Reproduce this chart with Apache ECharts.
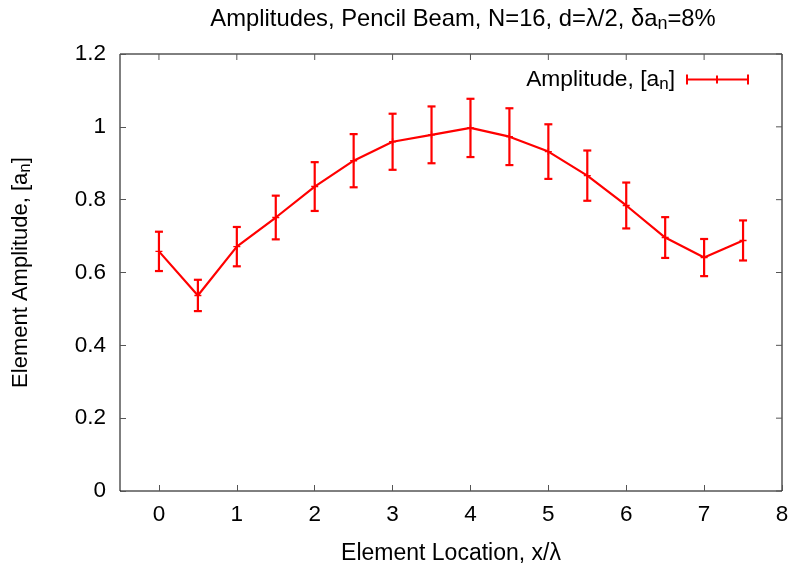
<!DOCTYPE html>
<html><head><meta charset="utf-8">
<script src="https://cdn.jsdelivr.net/npm/echarts@6/dist/echarts.min.js"></script>
<style>html,body{margin:0;padding:0;background:#fff}#c{width:792px;height:570px}</style>
</head><body><div id="c"></div>
<script>
const xLocations = [0, 0.5, 1, 1.5, 2, 2.5, 3, 3.5, 4, 4.5, 5, 5.5, 6, 6.5, 7, 7.5];
const amplitudes = [0.658, 0.537, 0.671, 0.751, 0.836, 0.907, 0.959, 0.978, 0.997, 0.973, 0.932, 0.866, 0.784, 0.696, 0.641, 0.688];
const errors = [0.054, 0.043, 0.054, 0.060, 0.067, 0.073, 0.077, 0.078, 0.080, 0.078, 0.075, 0.069, 0.063, 0.056, 0.051, 0.055];
const xTicks = [0, 1, 2, 3, 4, 5, 6, 7, 8];
const yTicks = [0, 0.2, 0.4, 0.6, 0.8, 1, 1.2];

const FONT = 'Liberation Sans';
const FS = 22.5;
const RED = '#ff0000';
const chart = echarts.init(document.getElementById('c'), null, {renderer: 'canvas'});
const lineData = xLocations.map((x, i) => [x, amplitudes[i]]);
const errData = xLocations.map((x, i) => [x, amplitudes[i] - errors[i], amplitudes[i] + errors[i]]);
function mkRich(fs, sfs, pad) {
  return {
    a: {fontFamily: FONT, fontSize: fs, color: '#000', fontWeight: 'normal'},
    s: {fontFamily: FONT, fontSize: sfs, color: '#000', fontWeight: 'normal', padding: [pad, 0, 0, 0]}
  };
}

const option = {
  backgroundColor: '#fff',
  animation: false,
  title: {
    text: '{a|Amplitudes, Pencil Beam, N=16, d=λ/2, δa}{s|n}{a|=8%}',
    left: 458, top: 0, textAlign: 'center',
    textStyle: {fontWeight: 'normal', rich: mkRich(23.8, 18, 10)}
  },
  legend: {
    right: 38, top: 63,
    align: 'right',
    itemWidth: 63, itemHeight: 10, itemGap: 10,
    icon: 'path://M0,4h63v2h-63z M0,0h2v10h-2z M30,1h2v8h-2z M61,0h2v10h-2z',
    data: [{name: 'Amplitude', itemStyle: {color: RED}}],
    formatter: () => '{a|Amplitude, [a}{s|n}{a|]}',
    textStyle: {padding: [0, 6, 0, 0], rich: mkRich(22.8, 17, 10)}
  },
  grid: {left: 120, right: 10, top: 54, bottom: 78, show: true, borderColor: '#000', borderWidth: 1, backgroundColor: 'transparent'},
  xAxis: {
    type: 'value', min: -0.5, max: 8,
    name: 'Element Location, x/λ', nameLocation: 'middle', nameGap: 51,
    nameTextStyle: {fontFamily: FONT, fontSize: 23, color: '#000'},
    axisLine: {show: false, onZero: false},
    splitLine: {show: false},
    axisTick: {show: true, inside: true, length: 6, lineStyle: {color: '#555'}, customValues: xTicks},
    axisLabel: {fontFamily: FONT, fontSize: FS, color: '#000', margin: 12, customValues: xTicks}
  },
  yAxis: {
    type: 'value', min: 0, max: 1.2, interval: 0.2,
    name: '{a|Element Amplitude, [a}{s|n}{a|]}', nameLocation: 'middle', nameGap: 86,
    nameTextStyle: {rich: mkRich(22, 17, 10)},
    axisLine: {show: false, onZero: false},
    splitLine: {show: false},
    axisTick: {show: true, inside: true, length: 6, lineStyle: {color: '#555'}},
    axisLabel: {fontFamily: FONT, fontSize: FS, color: '#000', margin: 14,
      formatter: v => String(Math.round(v * 10) / 10)}
  },
  series: [
    {
      name: 'Amplitude', type: 'line', data: lineData,
      symbol: 'path://M0,4h10v2h-10z M4,0h2v10h-2z', symbolSize: 7,
      lineStyle: {color: RED, width: 2.2}, itemStyle: {color: RED}, z: 3
    },
    {
      name: 'err', type: 'custom', data: errData,
      encode: {x: 0, y: [1, 2]},
      renderItem: (params, api) => {
        const x = api.value(0);
        const lo = api.coord([x, api.value(1)]);
        const hi = api.coord([x, api.value(2)]);
        const hw = 4;
        const st = {stroke: RED, lineWidth: 2.2};
        return {type: 'group', children: [
          {type: 'line', shape: {x1: lo[0], y1: lo[1], x2: hi[0], y2: hi[1]}, style: st},
          {type: 'line', shape: {x1: lo[0] - hw, y1: lo[1], x2: lo[0] + hw, y2: lo[1]}, style: st},
          {type: 'line', shape: {x1: hi[0] - hw, y1: hi[1], x2: hi[0] + hw, y2: hi[1]}, style: st}
        ]};
      },
      z: 2
    }
  ]
};
chart.setOption(option);

// mirrored ticks on top and right edges (gnuplot style)
function mirrorTicks() {
  const els = [];
  xTicks.forEach(t => {
    const p = chart.convertToPixel({xAxisIndex: 0}, t);
    els.push({type: 'line', shape: {x1: p, y1: 54, x2: p, y2: 60}, style: {stroke: '#555', lineWidth: 1}});
  });
  yTicks.forEach(t => {
    const p = chart.convertToPixel({yAxisIndex: 0}, t);
    els.push({type: 'line', shape: {x1: 782, y1: p, x2: 776, y2: p}, style: {stroke: '#555', lineWidth: 1}});
  });
  chart.setOption({graphic: els});
}
mirrorTicks();
</script></body></html>
